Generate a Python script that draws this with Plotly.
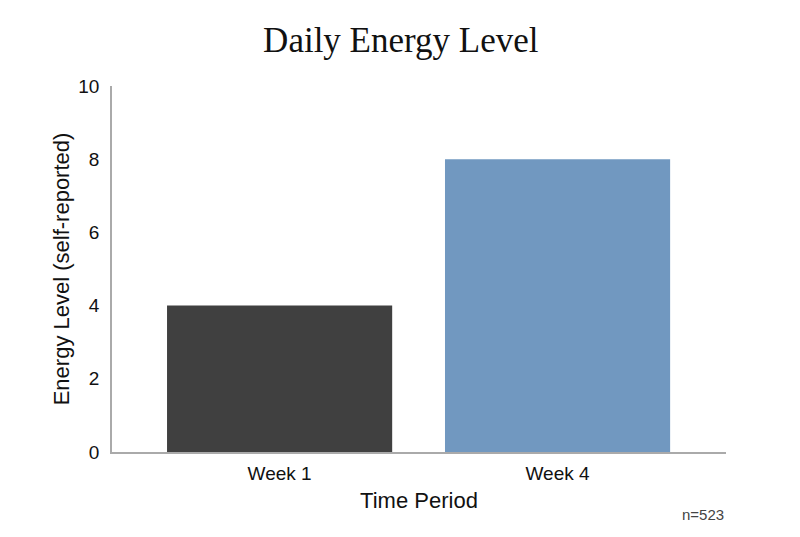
import plotly.graph_objects as go

periods = ["Week 1", "Week 4"]
energy = [4, 8]
bar_colors = ["#404040", "#7198c0"]
y_ticks = [0, 2, 4, 6, 8, 10]
sample_note = "n=523"

fig = go.Figure(
    go.Bar(
        x=periods,
        y=energy,
        marker=dict(color=bar_colors, line=dict(width=0)),
        width=0.81,
    )
)

# the page body adds an 8px offset, so margins are shifted to compensate
fig.update_layout(
    width=800,
    height=537,
    paper_bgcolor="white",
    plot_bgcolor="white",
    margin=dict(l=104, r=82, t=78, b=93),
    showlegend=False,
    font=dict(family="Liberation Sans, Arial, sans-serif", size=18, color="#111111"),
    title=dict(
        text="Daily Energy Level",
        x=0.491,
        xanchor="center",
        y=0.94,
        yanchor="middle",
        font=dict(family="Liberation Serif, Times New Roman, serif", size=35, color="#111111"),
    ),
)

fig.update_xaxes(
    range=[-0.603, 1.606],
    showline=True,
    linecolor="#aaaaaa",
    linewidth=1.5,
    showgrid=False,
    ticks="",
    tickfont=dict(size=19),
    ticklabelstandoff=3,
    title=dict(text="Time Period", standoff=10),
)

fig.update_yaxes(
    range=[0, 10],
    tickvals=y_ticks,
    showline=True,
    linecolor="#aaaaaa",
    linewidth=1.5,
    showgrid=False,
    zeroline=False,
    ticks="",
    tickfont=dict(size=19),
    ticklabelstandoff=7,
    title=dict(text="Energy Level (self-reported)", standoff=3),
)

# sample size note, bottom right
fig.add_annotation(
    text=sample_note,
    x=1.0,
    y=-0.17,
    xref="paper",
    yref="paper",
    xanchor="right",
    yanchor="middle",
    showarrow=False,
    font=dict(size=15, color="#444444"),
)

fig.write_html("out.html")
